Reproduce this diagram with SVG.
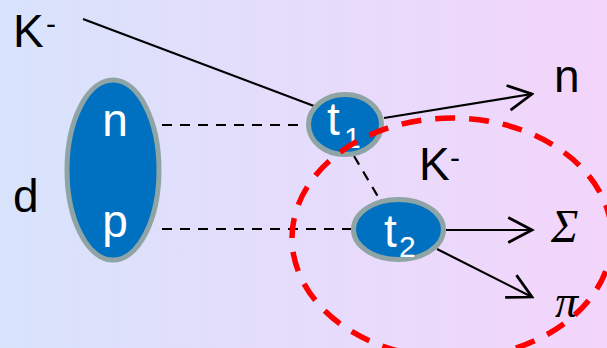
<svg xmlns="http://www.w3.org/2000/svg" width="607" height="348" viewBox="0 0 607 348">
<defs>
<linearGradient id="bg" x1="0" y1="0" x2="1" y2="0">
<stop offset="0" stop-color="#D8E3FC"/>
<stop offset="1" stop-color="#F3D5FA"/>
</linearGradient>
<marker id="arr" markerUnits="userSpaceOnUse" markerWidth="30" markerHeight="30" viewBox="-22 -12 24 24" refX="0" refY="0" orient="auto">
<path d="M-19,-10 L0,0 L-19,10" fill="none" stroke="#000" stroke-width="2.2"/>
</marker>
</defs>
<style>
.lab{font-family:"Liberation Sans",Arial,sans-serif;font-size:46px;fill:#000}
.wl{font-family:"Liberation Sans",Arial,sans-serif;font-size:46px;fill:#fff}
.sym{font-family:"Liberation Serif","Times New Roman",serif;font-style:italic;font-size:46px;fill:#000}
.node{fill:#0070C0;stroke:#8FA4A4;stroke-width:5}
.solid{stroke:#000;stroke-width:2.2;fill:none}
.dash{stroke:#000;stroke-width:2.2;fill:none;stroke-dasharray:10 8}
</style>
<rect width="607" height="348" fill="url(#bg)"/>
<g id="connectors">
<line class="solid" x1="83" y1="19" x2="314" y2="106"/>
<line class="solid" x1="384" y1="118" x2="532" y2="94" marker-end="url(#arr)"/>
<line class="solid" x1="446" y1="230" x2="532" y2="230" marker-end="url(#arr)"/>
<line class="solid" x1="437" y1="249" x2="532" y2="297" marker-end="url(#arr)"/>
<line class="dash" x1="162" y1="125" x2="306" y2="125"/>
<line class="dash" x1="162" y1="229" x2="351" y2="229"/>
<line class="dash" x1="354" y1="156" x2="380" y2="200"/>
</g>
<g id="label-K">
<text class="lab" x="13" y="47">K</text>
<text class="lab" x="46" y="34" style="font-size:30px">-</text>
</g>
<g id="label-d"><text class="lab" x="13" y="212">d</text></g>
<g id="deuteron">
<ellipse class="node" cx="113" cy="170" rx="46" ry="90"/>
<text class="wl" x="115" y="136" text-anchor="middle">n</text>
<text class="wl" x="115" y="237" text-anchor="middle">p</text>
</g>
<g id="t1">
<ellipse class="node" cx="345" cy="124.5" rx="36.5" ry="30"/>
<text class="wl" x="327" y="135">t</text>
<text class="wl" x="344" y="148" style="font-size:30px">1</text>
</g>
<g id="t2">
<ellipse class="node" cx="398.5" cy="229.5" rx="45" ry="30"/>
<text class="wl" x="384" y="247">t</text>
<text class="wl" x="399" y="257" style="font-size:30px">2</text>
</g>
<g id="label-n"><text class="lab" x="554" y="92">n</text></g>
<g id="label-K2">
<text class="lab" x="419" y="180">K</text>
<text class="lab" x="450" y="168" style="font-size:30px">-</text>
</g>
<g id="label-sigma"><text class="sym" x="551" y="242">Σ</text></g>
<g id="label-pi"><text class="sym" x="555" y="317">π</text></g>
<g id="region">
<ellipse cx="452" cy="238" rx="160" ry="120" fill="none" stroke="#FF0000" stroke-width="5.5" stroke-dasharray="20 14"/>
</g>
</svg>
